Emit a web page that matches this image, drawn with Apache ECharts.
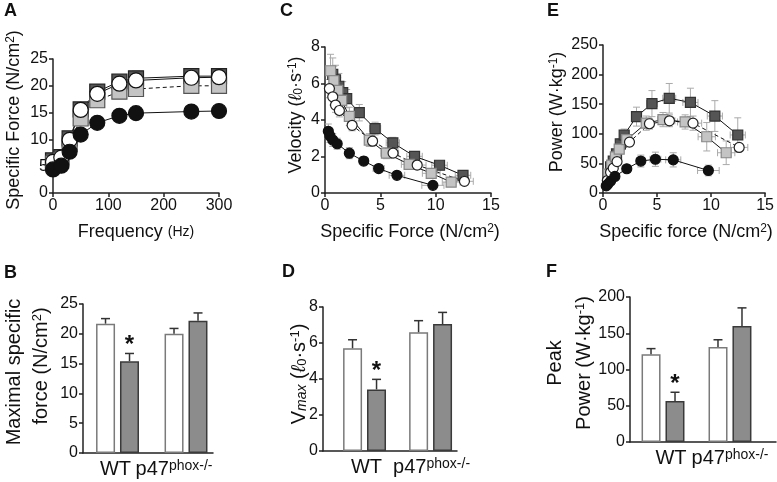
<!DOCTYPE html>
<html><head><meta charset="utf-8">
<script src="https://cdn.jsdelivr.net/npm/echarts@6/dist/echarts.min.js"></script>
<style>html,body{margin:0;padding:0;background:#fff}#c{width:777px;height:482px}</style>
</head><body><div id="c"></div>
<script>
// ---------- Panel A: force-frequency ----------
const freqA = [0, 15, 30, 50, 80, 120, 150, 250, 300];
const forceA_wtCtl = [5.8, 6.6, 9.9, 15.5, 18.5, 20.4, 21.0, 21.5, 21.6];
const forceA_wtTrt = [4.4, 5.1, 7.7, 10.9, 13.1, 14.4, 14.9, 15.2, 15.3];
const forceA_koCtl = [5.5, 6.1, 9.2, 13.9, 17.3, 18.9, 19.4, 20.0, 20.0];
const forceA_koTrt = [6.1, 6.7, 10.2, 15.6, 18.9, 20.8, 21.4, 21.8, 21.8];
const errA_wtCtl = [0.5, 0.5, 0.7, 0.8, 0.9, 0.9, 0.9, 0.9, 0.9];
const errA_wtTrt = [0.4, 0.4, 0.6, 0.8, 1.0, 1.0, 1.1, 1.1, 1.0];
const errA_koCtl = [0.5, 0.5, 0.7, 0.9, 1.0, 1.1, 1.1, 1.1, 1.1];
const errA_koTrt = [0.5, 0.5, 0.8, 1.0, 1.2, 1.3, 1.3, 1.3, 1.3];

// ---------- Panels C and E: force-velocity / force-power ----------
const forceKoTrt = [0.7, 0.95, 1.25, 1.6, 1.96, 3.1, 4.53, 6.13, 8.09, 10.35, 12.47];
const velKoTrt   = [6.5, 6.2, 5.85, 5.5, 5.17, 4.4, 3.53, 2.75, 2.01, 1.52, 0.97];
const powKoTrt   = [44, 54, 66, 83, 98, 129, 151, 160, 153, 130, 98];
const forceKoCtl = [0.5, 0.8, 1.15, 1.5, 2.2, 4.0, 5.55, 7.6, 9.6, 11.4];
const velKoCtl   = [6.7, 6.15, 5.62, 5.08, 4.2, 2.9, 2.18, 1.57, 1.08, 0.6];
const powKoCtl   = [32, 47, 61, 74, 90, 118, 124, 120, 95, 68];
const forceWtCtl = [0.4, 0.7, 0.95, 1.3, 2.45, 4.3, 6.15, 8.33, 12.6];
const velWtCtl   = [5.72, 5.27, 4.82, 4.52, 3.71, 2.84, 2.19, 1.53, 0.64];
const powWtCtl   = [21, 35, 42, 53, 86, 117, 122, 118, 77];
const forceWtTrt = [0.3, 0.45, 0.7, 1.1, 2.2, 3.5, 4.85, 6.5, 9.75];
const velWtTrt   = [3.38, 3.12, 2.9, 2.7, 2.18, 1.75, 1.34, 0.97, 0.42];
const powWtTrt   = [12, 15, 20, 28, 41, 54, 57, 56, 38];
// errors (SEM)
const fErrKoTrt = [0.1, 0.15, 0.2, 0.25, 0.3, 0.4, 0.5, 0.6, 0.7, 0.7, 0.7];
const vErrKoTrt = [0.9, 0.8, 0.7, 0.6, 0.5, 0.45, 0.35, 0.3, 0.25, 0.2, 0.15];
const pErrKoTrt = [4, 5, 6, 8, 10, 16, 22, 25, 24, 26, 29];
const fErrKoCtl = [0.1, 0.15, 0.2, 0.25, 0.3, 0.4, 0.5, 0.7, 0.8, 0.8];
const vErrKoCtl = [0.9, 0.8, 0.7, 0.6, 0.5, 0.35, 0.3, 0.25, 0.2, 0.15];
const pErrKoCtl = [4, 5, 6, 7, 9, 12, 12, 12, 24, 20];
const fErrWtCtl = [0.1, 0.1, 0.15, 0.2, 0.3, 0.4, 0.5, 0.8, 0.8];
const vErrWtCtl = [0.5, 0.45, 0.4, 0.35, 0.3, 0.25, 0.2, 0.2, 0.15];
const pErrWtCtl = [3, 4, 5, 6, 7, 9, 10, 12, 6];
const fErrWtTrt = [0.1, 0.1, 0.15, 0.2, 0.3, 0.4, 0.5, 0.7, 1.0];
const vErrWtTrt = [0.4, 0.35, 0.35, 0.3, 0.3, 0.25, 0.2, 0.15, 0.1];
const pErrWtTrt = [2, 2, 3, 4, 6, 10, 12, 12, 9];

// ---------- Bar panels B, D, F ----------
const groupNames = ['WT', 'p47'];
const groupSups = ['', 'phox-/-'];
const maxForceCtl = [21.7, 20.0], maxForceCtlErr = [0.85, 0.9];
const maxForceTrt = [15.4, 22.2], maxForceTrtErr = [1.3, 1.3];
const vmaxCtl = [5.71, 6.6], vmaxCtlErr = [0.47, 0.64];
const vmaxTrt = [3.42, 7.05], vmaxTrtErr = [0.56, 0.65];
const peakCtl = [121, 131], peakCtlErr = [7.8, 10];
const peakTrt = [56.6, 160], peakTrtErr = [12, 25];
const starsTrt = ['*', ''];

const FONT = 'Liberation Sans';
const AX = '#222';

function valAxis(gi, min, max, interval, extra) {
  return Object.assign({
    type: 'value', gridIndex: gi, min, max, interval,
    axisLine: { show: true, onZero: false, lineStyle: { color: AX, width: 1.5 } },
    axisTick: { show: true, length: 4, lineStyle: { color: AX, width: 1.5 } },
    axisLabel: { color: '#111', fontSize: 16, fontFamily: FONT, margin: 5 },
    splitLine: { show: false }
  }, extra || {});
}
// shifts: horizontal nudge (px) of each group label relative to its group centre
function barXAxis(gi, min, max, shifts) {
  const rich = {};
  [0, 1].forEach(i => {
    const s = shifts[i], hasSup = !!groupSups[i];
    rich['m' + i] = { fontSize: 20, fontFamily: FONT, color: '#111',
      padding: [0, hasSup ? 0 : Math.max(0, -2 * s), 0, Math.max(0, 2 * s)] };
    rich['s' + i] = { fontSize: 14, fontFamily: FONT, color: '#111', verticalAlign: 'top',
      padding: [0, Math.max(0, -2 * s), 0, 0] };
  });
  return {
    type: 'value', gridIndex: gi, min, max,
    axisLine: { show: true, onZero: false, lineStyle: { color: AX, width: 1.5 } },
    axisTick: { show: false },
    splitLine: { show: false },
    axisLabel: {
      customValues: [1, 2], color: '#111', fontSize: 20, fontFamily: FONT, margin: 6,
      formatter: v => { const i = Math.round(v) - 1;
        return '{m' + i + '|' + groupNames[i] + '}' + (groupSups[i] ? '{s' + i + '|' + groupSups[i] + '}' : ''); },
      rich
    }
  };
}
function pairs(xs, ys) { return xs.map((x, i) => [x, ys[i]]); }
function lineS(gi, xs, ys, sym, size, fill, stroke, dashed) {
  return {
    type: 'line', xAxisIndex: gi, yAxisIndex: gi, data: pairs(xs, ys), symbol: sym, symbolSize: size,
    showSymbol: true, clip: false, animation: false, silent: true,
    itemStyle: { color: fill, borderColor: stroke, borderWidth: 1.2, opacity: 1 },
    lineStyle: { color: '#111', width: 1, type: dashed ? [4, 3] : 'solid' }
  };
}
function errS(gi, xs, ys, xe, ye, color, cap, w) {
  const data = xs.map((x, i) => [x, ys[i], xe ? xe[i] : 0, ye[i]]);
  return {
    type: 'custom', xAxisIndex: gi, yAxisIndex: gi, data, silent: true, animation: false, clip: false,
    renderItem(params, api) {
      const x = api.value(0), y = api.value(1), ex = api.value(2), ey = api.value(3);
      const st = { stroke: color, lineWidth: w, fill: null };
      const h = cap / 2, ch = [];
      if (ey > 0) {
        const t = api.coord([x, y + ey]), b = api.coord([x, y - ey]);
        ch.push({ type: 'line', shape: { x1: t[0], y1: t[1], x2: b[0], y2: b[1] }, style: st });
        ch.push({ type: 'line', shape: { x1: t[0] - h, y1: t[1], x2: t[0] + h, y2: t[1] }, style: st });
        ch.push({ type: 'line', shape: { x1: b[0] - h, y1: b[1], x2: b[0] + h, y2: b[1] }, style: st });
      }
      if (ex > 0) {
        const l = api.coord([x - ex, y]), r = api.coord([x + ex, y]);
        ch.push({ type: 'line', shape: { x1: l[0], y1: l[1], x2: r[0], y2: r[1] }, style: st });
        ch.push({ type: 'line', shape: { x1: l[0], y1: l[1] - h, x2: l[0], y2: l[1] + h }, style: st });
        ch.push({ type: 'line', shape: { x1: r[0], y1: r[1] - h, x2: r[0], y2: r[1] + h }, style: st });
      }
      return { type: 'group', children: ch };
    }
  };
}
function barS(gi, vals, fill, stroke) {
  return {
    type: 'bar', xAxisIndex: gi, yAxisIndex: gi, data: pairs([1, 2], vals), barWidth: 19, barGap: '26%',
    animation: false, silent: true,
    itemStyle: { color: fill, borderColor: stroke, borderWidth: 1.5 }
  };
}
function barErrS(gi, vals, errs, side, stars) {
  return {
    type: 'custom', xAxisIndex: gi, yAxisIndex: gi, data: pairs([1, 2], vals).map((p, i) => [p[0], p[1], errs[i]]),
    silent: true, animation: false, clip: false, z: 5,
    renderItem(params, api) {
      const x = api.value(0), y = api.value(1), e = api.value(2);
      const b = api.coord([x, y]), t = api.coord([x, y + e]);
      const dx = side * 12;
      const st = { stroke: '#333', lineWidth: 1.5, fill: null };
      const ch = [
        { type: 'line', shape: { x1: b[0] + dx, y1: b[1], x2: t[0] + dx, y2: t[1] }, style: st },
        { type: 'line', shape: { x1: t[0] + dx - 4.5, y1: t[1], x2: t[0] + dx + 4.5, y2: t[1] }, style: st }
      ];
      const s = stars && stars[params.dataIndex];
      if (s) ch.push({ type: 'text', x: t[0] + dx, y: t[1] - 8, style: { text: s, fontSize: 24, fontWeight: 'bold', fontFamily: FONT, fill: '#111', align: 'center', verticalAlign: 'middle' } });
      return { type: 'group', children: ch };
    }
  };
}

function txt(x, y, text, size, rot, rich) {
  return {
    type: 'text', x, y, rotation: rot || 0, silent: true,
    style: { text, fontSize: size, fontFamily: FONT, fill: '#111', align: 'center', verticalAlign: 'middle', rich: rich || {} }
  };
}
function letter(x, y, t) {
  return { type: 'text', x, y, silent: true, style: { text: t, fontSize: 18, fontWeight: 'bold', fontFamily: FONT, fill: '#111', align: 'left', verticalAlign: 'top' } };
}
const R90 = Math.PI / 2;
const richY = {
  sup: { fontSize: 12, fontFamily: FONT, fill: '#111', verticalAlign: 'top' },
  sub: { fontSize: 12, fontFamily: FONT, fill: '#111', verticalAlign: 'bottom' },
  it: { fontSize: 18, fontFamily: FONT, fontStyle: 'italic', fill: '#111' },
  small: { fontSize: 14, fontFamily: FONT, fill: '#111' }
};
const richY20 = {
  sup: { fontSize: 13, fontFamily: FONT, fill: '#111', verticalAlign: 'top' },
  sub: { fontSize: 13, fontFamily: FONT, fill: '#111', verticalAlign: 'bottom' },
  subi: { fontSize: 14, fontFamily: FONT, fontStyle: 'italic', fill: '#111', verticalAlign: 'bottom' },
  it: { fontSize: 20, fontFamily: FONT, fontStyle: 'italic', fill: '#111' }
};

const option = {
  animation: false,
  textStyle: { fontFamily: FONT },
  grid: [
    { left: 53, top: 59, width: 166, height: 134 },   // A
    { left: 325, top: 47, width: 166, height: 146 },  // C
    { left: 603, top: 45, width: 168, height: 148 },  // E
    { left: 83, top: 304, width: 130, height: 149 },  // B
    { left: 323, top: 307, width: 134, height: 144 }, // D
    { left: 630, top: 297, width: 146, height: 145 }  // F
  ],
  xAxis: [
    valAxis(0, 0, 300, 100),
    valAxis(1, 0, 15, 5),
    valAxis(2, 0, 15, 5),
    barXAxis(3, 0.496, 2.394, [-2, -12]),
    barXAxis(4, 0.371, 2.40, [2, 1]),
    barXAxis(5, 0.507, 2.687, [8, 0])
  ],
  yAxis: [
    valAxis(0, 0, 25, 5),
    valAxis(1, 0, 8, 2),
    valAxis(2, 0, 250, 50),
    valAxis(3, 0, 25, 5),
    valAxis(4, 0, 8, 2),
    valAxis(5, 0, 200, 50)
  ],
  series: [
    // A
    errS(0, freqA, forceA_koTrt, null, errA_koTrt, '#111', 8, 1),
    errS(0, freqA, forceA_koCtl, null, errA_koCtl, '#111', 8, 1),
    errS(0, freqA, forceA_wtCtl, null, errA_wtCtl, '#111', 8, 1),
    errS(0, freqA, forceA_wtTrt, null, errA_wtTrt, '#111', 8, 1),
    lineS(0, freqA, forceA_koTrt, 'rect', 15, '#555', '#222', false),
    lineS(0, freqA, forceA_koCtl, 'rect', 15, '#c4c4c4', '#555', true),
    lineS(0, freqA, forceA_wtCtl, 'circle', 15, '#fff', '#111', false),
    lineS(0, freqA, forceA_wtTrt, 'circle', 15, '#111', '#111', false),
    // C
    errS(1, forceKoTrt, velKoTrt, fErrKoTrt, vErrKoTrt, '#aaa', 7, 1),
    errS(1, forceKoCtl, velKoCtl, fErrKoCtl, vErrKoCtl, '#aaa', 7, 1),
    errS(1, forceWtCtl, velWtCtl, fErrWtCtl, vErrWtCtl, '#aaa', 7, 1),
    errS(1, forceWtTrt, velWtTrt, fErrWtTrt, vErrWtTrt, '#aaa', 7, 1),
    lineS(1, forceKoTrt, velKoTrt, 'rect', 10, '#555', '#333', false),
    lineS(1, forceKoCtl, velKoCtl, 'rect', 10, '#c4c4c4', '#888', false),
    lineS(1, forceWtCtl, velWtCtl, 'circle', 10, '#fff', '#222', true),
    lineS(1, forceWtTrt, velWtTrt, 'circle', 10, '#111', '#111', false),
    // E
    errS(2, forceKoTrt, powKoTrt, fErrKoTrt, pErrKoTrt, '#aaa', 7, 1),
    errS(2, forceKoCtl, powKoCtl, fErrKoCtl, pErrKoCtl, '#aaa', 7, 1),
    errS(2, forceWtCtl, powWtCtl, fErrWtCtl, pErrWtCtl, '#aaa', 7, 1),
    errS(2, forceWtTrt, powWtTrt, fErrWtTrt, pErrWtTrt, '#aaa', 7, 1),
    lineS(2, forceKoTrt, powKoTrt, 'rect', 10, '#555', '#333', false),
    lineS(2, forceKoCtl, powKoCtl, 'rect', 10, '#c4c4c4', '#888', false),
    lineS(2, forceWtCtl, powWtCtl, 'circle', 10, '#fff', '#222', true),
    lineS(2, forceWtTrt, powWtTrt, 'circle', 10, '#111', '#111', false),
    // B
    barS(3, maxForceCtl, '#fff', '#7a7a7a'),
    barS(3, maxForceTrt, '#8c8c8c', '#3a3a3a'),
    barErrS(3, maxForceCtl, maxForceCtlErr, -1, null),
    barErrS(3, maxForceTrt, maxForceTrtErr, 1, starsTrt),
    // D
    barS(4, vmaxCtl, '#fff', '#7a7a7a'),
    barS(4, vmaxTrt, '#8c8c8c', '#3a3a3a'),
    barErrS(4, vmaxCtl, vmaxCtlErr, -1, null),
    barErrS(4, vmaxTrt, vmaxTrtErr, 1, starsTrt),
    // F
    barS(5, peakCtl, '#fff', '#7a7a7a'),
    barS(5, peakTrt, '#8c8c8c', '#3a3a3a'),
    barErrS(5, peakCtl, peakCtlErr, -1, null),
    barErrS(5, peakTrt, peakTrtErr, 1, starsTrt)
  ],
  graphic: [
    letter(4, 2, 'A'), letter(280, 2, 'C'), letter(547, 2, 'E'),
    letter(4, 264, 'B'), letter(282, 263, 'D'), letter(546, 263, 'F'),
    txt(14, 120, 'Specific Force (N/cm{sup|2})', 18, R90, richY),
    txt(136, 232, 'Frequency {small|(Hz)}', 18, 0, richY),
    txt(296, 115, 'Velocity ({it|ℓ}{sub|0}·s{sup|-1})', 18, R90, richY),
    txt(410, 232, 'Specific Force (N/cm{sup|2})', 18, 0, richY),
    txt(557, 112, 'Power (W·kg{sup|-1})', 18, R90, richY),
    txt(686, 232, 'Specific force (N/cm{sup|2})', 18, 0, richY),
    txt(14, 372, 'Maximal specific', 20, R90, richY20),
    txt(41, 366, 'force (N/cm{sup|2})', 20, R90, richY20),
    txt(299, 374, 'V{subi|max} ({it|ℓ}{sub|0}·s{sup|-1})', 20, R90, richY20),
    txt(555, 363, 'Peak', 20, R90, richY20),
    txt(584, 363, 'Power (W·kg{sup|-1})', 20, R90, richY20)
  ]
};
const chart = echarts.init(document.getElementById('c'), null, { renderer: 'canvas' });
chart.setOption(option);
</script></body></html>
